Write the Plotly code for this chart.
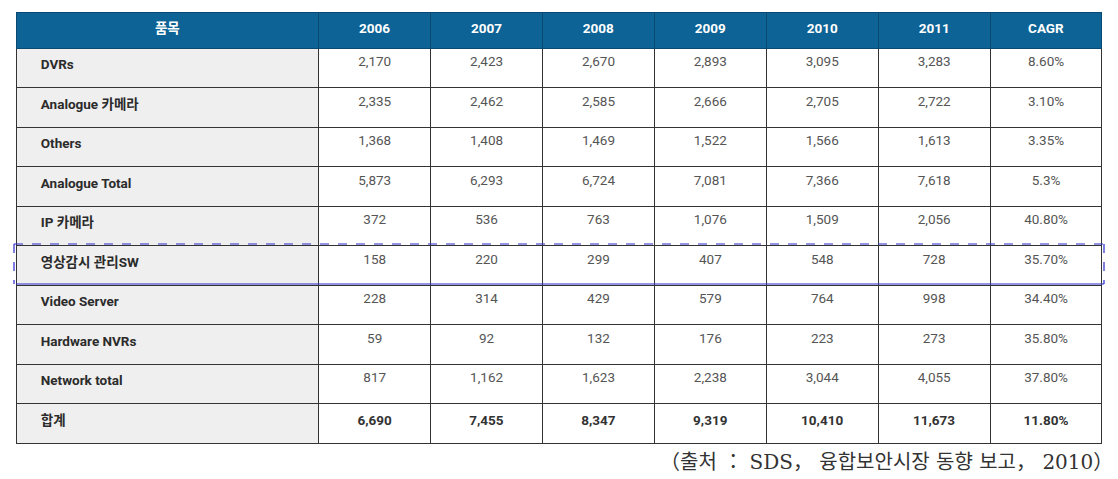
import plotly.graph_objects as go

W, H = 1118, 479

header = ["품목", "2006", "2007", "2008", "2009", "2010", "2011", "CAGR"]
items = ["DVRs", "Analogue 카메라", "Others", "Analogue Total", "IP 카메라",
         "영상감시 관리SW", "Video Server", "Hardware NVRs", "Network total", "합계"]
y2006 = ["2,170", "2,335", "1,368", "5,873", "372", "158", "228", "59", "817", "6,690"]
y2007 = ["2,423", "2,462", "1,408", "6,293", "536", "220", "314", "92", "1,162", "7,455"]
y2008 = ["2,670", "2,585", "1,469", "6,724", "763", "299", "429", "132", "1,623", "8,347"]
y2009 = ["2,893", "2,666", "1,522", "7,081", "1,076", "407", "579", "176", "2,238", "9,319"]
y2010 = ["3,095", "2,705", "1,566", "7,366", "1,509", "548", "764", "223", "3,044", "10,410"]
y2011 = ["3,283", "2,722", "1,613", "7,618", "2,056", "728", "998", "273", "4,055", "11,673"]
cagr = ["8.60%", "3.10%", "3.35%", "5.3%", "40.80%", "35.70%", "34.40%", "35.80%", "37.80%", "11.80%"]
source = "（출처 ： SDS， 융합보안시장 동향 보고， 2010）"

# layout constants (screen pixels)
LEFT, RIGHT, TOP = 16, 1102, 9
HEAD_H, ROW_H = 39, 39.5
PAGE_DX, PAGE_DY = 8, 7   # page body offset of the plot div
FONT = "Roboto, Liberation Sans, Noto Sans CJK KR, sans-serif"
HL = 5  # highlighted row index

def col(vals, bold_last=True):
    out = []
    for i, v in enumerate(vals):
        out.append(f"<b>{v}</b>" if (bold_last and i == len(vals) - 1) else v)
    return out

pad = "\u00a0" * 5
first = [pad + (f"<b>{v}</b>") for v in items]
columns = [first] + [col(c) for c in (y2006, y2007, y2008, y2009, y2010, y2011, cagr)]

n = len(items)
font_colors = [["#2b2b2b"] * n] + [["#555555"] * (n - 1) + ["#333333"]] * 7

fig = go.Figure(go.Table(
    domain=dict(x=[(LEFT - 8) / W, (RIGHT - 8) / W], y=[0, 1 - (TOP - 5) / H]),
    columnwidth=[303] + [112] * 7,
    header=dict(
        values=[f"<b>{h}</b>" for h in header],
        fill_color="#0d6396",
        line=dict(color="#0a4a72", width=1),
        font=dict(family=FONT, size=13.5, color="white"),
        align="center",
        height=HEAD_H - 3,
    ),
    cells=dict(
        values=columns,
        fill_color=[["#efefef"] * n] + [["white"] * n] * 7,
        line=dict(color="#333333", width=1),
        font=dict(family=FONT, size=13.5, color=font_colors),
        align=["left"] + ["center"] * 7,
        height=ROW_H,
    ),
))

def px(x):
    return (x - PAGE_DX) / W

def py(y):
    return 1 - (y - PAGE_DY) / H

top_hl = 243
bot_hl = TOP + HEAD_H + (HL + 1) * ROW_H - 2
blue = "#2a2ad0"
shapes = [
    dict(type="line", xref="paper", yref="paper", x0=px(LEFT - 2), x1=px(RIGHT + 2),
         y0=py(top_hl), y1=py(top_hl), line=dict(color=blue, width=1.2, dash="dash")),
    dict(type="line", xref="paper", yref="paper", x0=px(LEFT - 2), x1=px(LEFT - 2),
         y0=py(top_hl), y1=py(bot_hl), line=dict(color=blue, width=1.2, dash="dash")),
    dict(type="line", xref="paper", yref="paper", x0=px(RIGHT + 2), x1=px(RIGHT + 2),
         y0=py(top_hl), y1=py(bot_hl), line=dict(color=blue, width=1.2, dash="dash")),
    dict(type="line", xref="paper", yref="paper", x0=px(LEFT), x1=px(RIGHT + 2),
         y0=py(bot_hl), y1=py(bot_hl), line=dict(color=blue, width=1.2)),
]

fig.update_layout(
    width=W, height=H,
    margin=dict(l=0, r=0, t=0, b=0),
    paper_bgcolor="white",
    shapes=shapes,
    annotations=[dict(
        text=source, xref="paper", yref="paper", x=px(1115), y=py(461),
        xanchor="right", yanchor="middle", showarrow=False,
        font=dict(family="DejaVu Serif, Noto Sans CJK KR, serif", size=20, color="#333333"),
    )],
)

fig.write_html("out.html")
